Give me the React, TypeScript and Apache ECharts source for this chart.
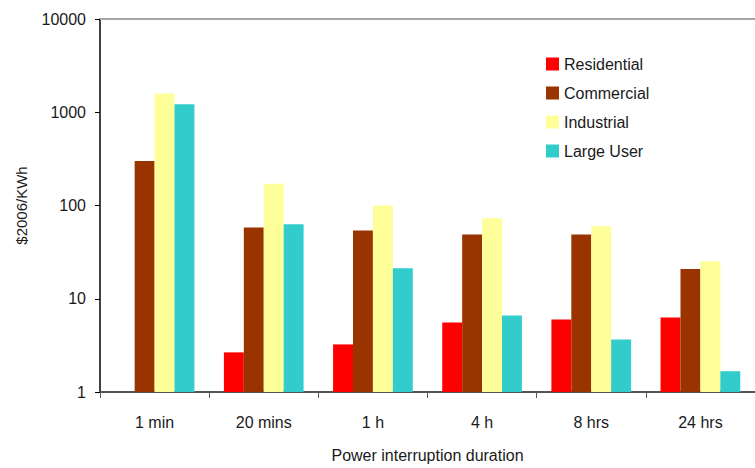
import React, { useEffect, useRef } from "react";
import * as echarts from "echarts";

const categories = ["1 min", "20 mins", "1 h", "4 h", "8 hrs", "24 hrs"];
const residential: (number | null)[] = [null, 2.66, 3.24, 5.55, 6.0, 6.3];
const commercial = [300, 58, 54, 49, 49, 20.8];
const industrial = [1590, 171, 100, 73, 60, 25.2];
const largeUser = [1215, 63, 21.3, 6.6, 3.66, 1.67];
const seriesNames = ["Residential", "Commercial", "Industrial", "Large User"];
const seriesColors = ["#FF0000", "#993300", "#FFFF99", "#33CCCC"];

export default function App() {
  const ref = useRef<HTMLDivElement>(null);
  useEffect(() => {
    document.body.style.margin = "0";
    if (!ref.current) return;
    const chart = echarts.init(ref.current, undefined, { renderer: "svg" });
    const font = "'Liberation Sans', Arial, sans-serif";
    const data = [residential, commercial, industrial, largeUser];
    chart.setOption({
      animation: false,
      backgroundColor: "#ffffff",
      textStyle: { fontFamily: font },
      grid: { left: 100, top: 19, width: 664, height: 376, containLabel: false },
      legend: {
        orient: "vertical",
        left: 546,
        top: 56,
        padding: 0,
        itemWidth: 13,
        itemHeight: 13,
        itemGap: 13,
        icon: "rect",
        textStyle: { fontSize: 16, color: "#1a1a1a", fontFamily: font, lineHeight: 15 },
        data: seriesNames,
      },
      xAxis: [
        {
          type: "category",
          data: categories,
          position: "bottom",
          axisLine: { lineStyle: { color: "#555", width: 2 } },
          axisTick: { show: true, length: 6, lineStyle: { color: "#555", width: 1 } },
          axisLabel: { fontSize: 16, color: "#1a1a1a", margin: 22, fontFamily: font },
          name: "Power interruption duration",
          nameLocation: "middle",
          nameGap: 55,
          nameTextStyle: { fontSize: 16, color: "#1a1a1a", fontFamily: font },
        },
        {
          type: "category",
          data: categories,
          position: "top",
          axisLine: { lineStyle: { color: "#a6a6a6", width: 2 } },
          axisTick: { show: false },
          axisLabel: { show: false },
        },
      ],
      yAxis: {
        type: "log",
        logBase: 10,
        min: 1,
        max: 10000,
        axisLine: { show: true, lineStyle: { color: "#000", width: 1.5 } },
        axisTick: { show: true, length: 5, lineStyle: { color: "#000" } },
        axisLabel: {
          fontSize: 16,
          color: "#1a1a1a",
          margin: 14,
          fontFamily: font,
          formatter: (v: number) => String(Math.round(v)),
        },
        splitLine: { show: false },
        name: "$2006/KWh",
        nameLocation: "middle",
        nameGap: 71,
        nameTextStyle: { fontSize: 15, color: "#1a1a1a", fontFamily: font },
      },
      series: seriesNames.map((name, i) => ({
        name,
        type: "bar",
        xAxisIndex: 0,
        data: data[i],
        itemStyle: { color: seriesColors[i] },
        barGap: "0%",
        barCategoryGap: "27%",
      })),
    });
    return () => chart.dispose();
  }, []);
  return <div ref={ref} style={{ width: 755, height: 468 }} />;
}
